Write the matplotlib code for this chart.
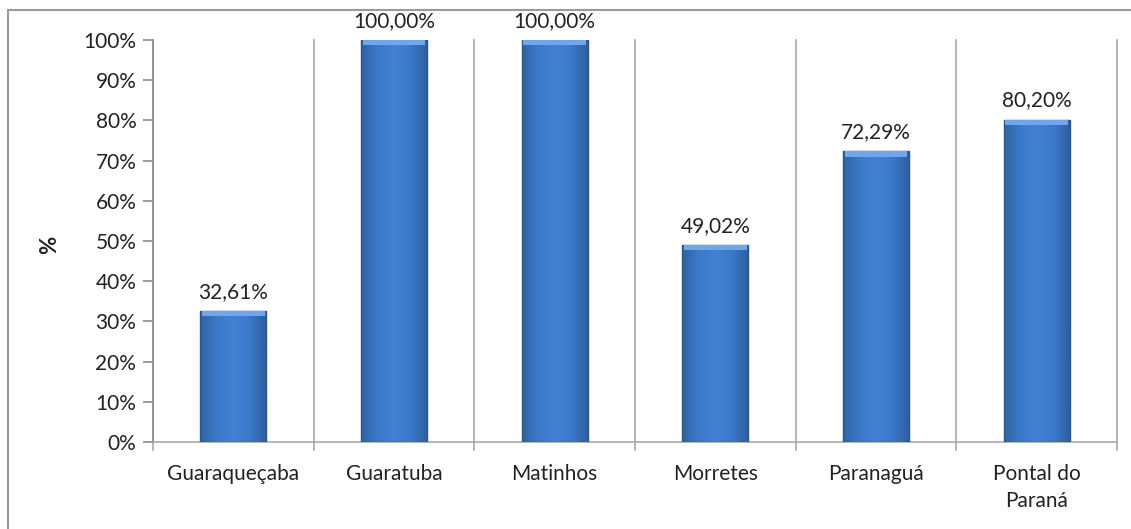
import matplotlib.pyplot as plt
from matplotlib.patches import Rectangle
from matplotlib.colors import LinearSegmentedColormap
import numpy as np

plt.rcParams['font.family'] = ['Lato', 'DejaVu Sans']

cidades = ['Guaraqueçaba', 'Guaratuba', 'Matinhos', 'Morretes', 'Paranaguá', 'Pontal do\nParaná']
valores = [32.61, 100.00, 100.00, 49.02, 72.29, 80.20]
rotulos = ['32,61%', '100,00%', '100,00%', '49,02%', '72,29%', '80,20%']

fig = plt.figure(figsize=(11.31, 5.29), dpi=100)
ax = fig.add_axes([153 / 1131, 1 - 442 / 529, (1117 - 153) / 1131, (442 - 40) / 529])

# moldura externa
fig.patches.append(Rectangle((8 / 1131, -0.05), 1.1, 1 - 10 / 529 + 0.05, transform=fig.transFigure,
                             fill=False, edgecolor='#9a9a9a', linewidth=1.5))

# gradiente das barras (bordas um pouco mais escuras)
cmap = LinearSegmentedColormap.from_list('barra', ['#30649f', '#3b7acb', '#4281d3', '#3b7acb', '#2f5f9e'])
grad = np.linspace(0, 1, 64).reshape(1, -1)

x = np.arange(len(cidades))
larg = 0.41
barras = ax.bar(x, valores, width=larg, color='none', edgecolor='#2a5590', linewidth=1.0, zorder=4)
for b in barras:
    x0, y0, w, h = b.get_x(), b.get_y(), b.get_width(), b.get_height()
    im = ax.imshow(grad, cmap=cmap, aspect='auto', extent=(x0, x0 + w, y0, y0 + h), zorder=3)
    im.set_clip_path(b)
    # brilho no topo
    ax.add_patch(Rectangle((x0 + 0.01, y0 + h - 1.3), w - 0.02, 1.3, color='#72a6ec', lw=0, zorder=5))

for xi, v, r in zip(x, valores, rotulos):
    ax.text(xi, v + 2.3, r, ha='center', va='bottom', fontsize=15, color='#222222')

ax.set_xlim(-0.5, len(cidades) - 0.5)
ax.set_ylim(0, 100)
ax.set_yticks(range(0, 101, 10))
ax.set_yticklabels([f'{t}%' for t in range(0, 101, 10)], fontsize=15, color='#222222')
ax.set_xticks(x)
ax.set_xticklabels(cidades, fontsize=15, color='#222222', linespacing=1.4)
ax.tick_params(axis='x', length=0, pad=16)
ax.tick_params(axis='y', length=7, color='#8c8c8c', width=1.2, pad=5)

# linhas verticais entre categorias
for b in np.arange(-0.5, len(cidades), 1.0):
    ax.plot([b, b], [-2, 100], color='#a8a8a8', linewidth=1.2, clip_on=False, zorder=1)

for s in ['top', 'right']:
    ax.spines[s].set_visible(False)
ax.spines['left'].set_color('#8c8c8c')
ax.spines['bottom'].set_color('#a8a8a8')
ax.spines['left'].set_linewidth(1.2)
ax.spines['bottom'].set_linewidth(1.2)

fig.text(50 / 1131, 1 - 245 / 529, '%', rotation=90, ha='center', va='center',
         fontsize=16, fontweight='bold', color='#222222')

fig.savefig('out.png', dpi=100)
